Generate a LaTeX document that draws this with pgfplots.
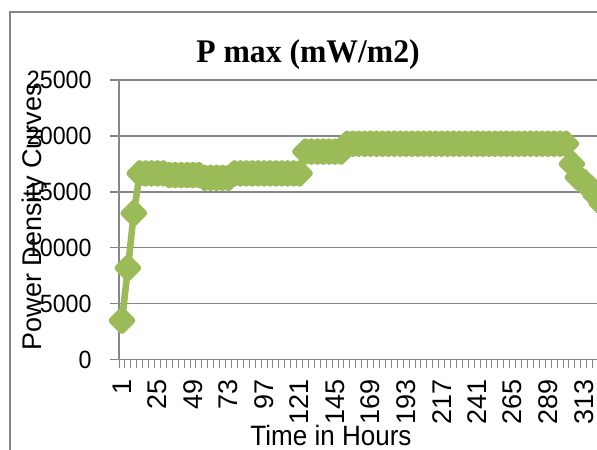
\documentclass[border=0pt]{standalone}
\usepackage{fontspec}
\setmainfont{Liberation Sans}[FakeStretch=0.93]
\newfontfamily\plainsans{Liberation Sans}
\newfontfamily\titlefont{Liberation Serif}[FakeStretch=0.96]
\usepackage{pgfplots}
\pgfplotsset{compat=1.18}
\usepackage{pgfplotstable}
\definecolor{axisgray}{HTML}{868686}
\definecolor{linegreen}{HTML}{9BBB59}

\pgfplotstableread{
hour value
1 3500
5 8200
9 13100
13 16650
17 16650
21 16650
25 16650
29 16650
33 16500
37 16500
41 16500
45 16500
49 16500
53 16500
57 16250
61 16250
65 16250
69 16250
73 16250
77 16650
81 16650
85 16650
89 16650
93 16650
97 16650
101 16650
105 16650
109 16650
113 16650
117 16650
121 16650
125 18600
129 18600
133 18600
137 18600
141 18600
145 18600
149 18600
153 19300
157 19300
161 19300
165 19300
169 19300
173 19300
177 19300
181 19300
185 19300
189 19300
193 19300
197 19300
201 19300
205 19300
209 19300
213 19300
217 19300
221 19300
225 19300
229 19300
233 19300
237 19300
241 19300
245 19300
249 19300
253 19300
257 19300
261 19300
265 19300
269 19300
273 19300
277 19300
281 19300
285 19300
289 19300
293 19300
297 19300
301 19300
305 17500
309 16300
313 15900
317 15400
321 14700
325 14000
}\pmax

\begin{document}
\begin{tikzpicture}
\useasboundingbox (0pt,0pt) rectangle (298.5pt,224.5pt);
\clip (0pt,0pt) rectangle (298.5pt,224.5pt);
\draw[axisgray, line width=0.65pt] (5pt,-50pt) rectangle (400pt,218.5pt);
\begin{axis}[
  scale only axis, width=267.88pt, height=139.85pt,
  at={(59.5pt,44.65pt)}, anchor=south west,
  xmin=-1, xmax=361, ymin=0, ymax=25000,
  scaled y ticks=false, scaled x ticks=false,
  axis lines=left, axis line style={-, draw=axisgray, line width=0.65pt},
  clip=false,
  tick align=outside, tick pos=left,
  xtick={1,25,...,313},
  xticklabels={1,25,49,73,97,121,145,169,193,217,241,265,289,313},
  minor xtick={-1,3,...,361},
  major x tick style={draw=none},
  minor x tick style={draw=axisgray, line width=0.5pt},
  minor tick length=4pt,
  major tick length=4.5pt,
  ytick={0,5000,...,25000},
  yticklabels={0,5000,10000,15000,20000,25000},
  ytick style={draw=axisgray, line width=0.65pt},
  ymajorgrids, major grid style={draw=axisgray, line width=0.65pt},
  yticklabel style={font=\fontsize{12.5}{15}\selectfont, anchor=east, inner sep=0pt, xshift=-9pt},
  xticklabel style={font=\plainsans\fontsize{13.5}{16}\selectfont, rotate=90, anchor=east, inner sep=0pt, xshift=-5pt},
]
\addplot[color=linegreen, line width=3.3pt, line join=round,
  mark=square*, mark size=3.54pt,
  mark options={rotate=45, solid, fill=linegreen, draw=none}]
  table[x=hour,y=value]{\pmax};
\end{axis}
\node[anchor=base, font=\titlefont\bfseries\fontsize{16.5}{19}\selectfont] at (154pt,193pt) {P max (mW/m2)};
\node[anchor=base, font=\fontsize{14}{17}\selectfont] at (165.5pt,2pt) {Time in Hours};
\node[anchor=base, rotate=90, font=\plainsans\fontsize{13.5}{16}\selectfont] at (20.85pt,116.25pt) {Power Density Curves};
\end{tikzpicture}
\end{document}
